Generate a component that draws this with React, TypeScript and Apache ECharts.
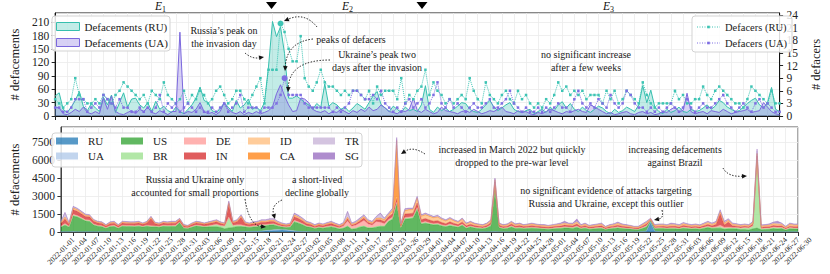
import React, { useEffect, useRef } from "react";
import * as echarts from "echarts";

const FONT = '"Liberation Serif", "DejaVu Serif", serif';

// 2022-01-01 .. 2022-06-30
const dates: string[] = Array.from({ length: 181 }, (_, i) =>
  new Date(Date.UTC(2022, 0, 1 + i)).toISOString().slice(0, 10)
);

// ---- top panel ----
const ruDefacements = [
  45, 52, 15, 8, 20, 35, 55, 22, 12, 28,
  18, 10, 42, 25, 47, 8, 30, 52, 20, 38,
  40, 25, 18, 30, 10, 33, 15, 22, 12, 8,
  20, 10, 5, 15, 25, 40, 65, 35, 30, 12,
  8, 15, 30, 20, 10, 35, 18, 25, 38, 15,
  20, 12, 30, 110, 212, 178, 200, 140, 40, 40,
  45, 38, 30, 25, 15, 28, 20, 72, 22, 30,
  25, 15, 20, 10, 18, 28, 22, 15, 30, 45,
  55, 25, 18, 10, 22, 15, 8, 20, 12, 15,
  10, 25, 68, 15, 8, 20, 12, 18, 10, 15,
  22, 30, 28, 15, 10, 8, 15, 25, 35, 20,
  12, 18, 25, 30, 15, 10, 8, 12, 15, 5,
  10, 15, 8, 20, 12, 25, 32, 18, 28, 15,
  10, 20, 12, 8, 15, 22, 18, 10, 5, 15,
  8, 12, 20, 15, 10, 25, 68, 30, 58, 20,
  10, 5, 15, 8, 12, 20, 10, 8, 15, 10,
  12, 18, 25, 15, 22, 35, 30, 20, 15, 10,
  12, 20, 28, 35, 40, 25, 18, 30, 64, 15,
  10,
];
const uaDefacements = [
  20, 18, 5, 3, 8, 15, 10, 20, 8, 5,
  10, 5, 40, 15, 45, 10, 5, 3, 8, 12,
  5, 15, 10, 20, 8, 5, 12, 8, 3, 10,
  10, 188, 5, 10, 8, 15, 30, 10, 5, 8,
  3, 10, 30, 15, 8, 5, 10, 3, 8, 5,
  10, 5, 8, 12, 20, 50, 70, 45, 25, 10,
  12, 40, 38, 30, 15, 10, 8, 12, 5, 10,
  8, 15, 10, 5, 12, 8, 15, 10, 20, 12,
  15, 25, 18, 10, 8, 5, 12, 10, 15, 40,
  12, 8, 15, 10, 5, 8, 20, 12, 10, 8,
  5, 10, 12, 8, 15, 10, 5, 8, 12, 10,
  15, 20, 10, 8, 5, 12, 8, 10, 5, 3,
  8, 5, 10, 15, 12, 8, 5, 10, 8, 12,
  15, 10, 8, 25, 20, 15, 10, 5, 8, 3,
  5, 8, 10, 5, 3, 8, 10, 5, 8, 3,
  5, 10, 8, 15, 20, 10, 12, 51, 10, 5,
  8, 10, 5, 12, 10, 8, 15, 10, 5, 8,
  10, 12, 15, 8, 10, 12, 30, 20, 10, 5,
  3,
];
const ruDefacers = [
  4, 3, 2, 3, 4, 9, 5, 4, 3, 3,
  4, 3, 5, 4, 3, 5, 6, 8, 7, 6,
  5, 4, 5, 3, 6, 5, 4, 8, 5, 4,
  3, 4, 6, 3, 5, 4, 6, 5, 3, 4,
  6, 7, 5, 3, 4, 6, 6, 4, 3, 5,
  7, 9, 3, 11, 11, 11, 22, 20, 16, 13,
  13, 19, 9, 7, 6, 8, 11, 8, 7, 7,
  6, 5, 6, 5, 6, 6, 5, 4, 6, 3,
  7, 5, 6, 6, 6, 4, 9, 3, 5, 4,
  6, 7, 11, 5, 8, 6, 5, 3, 4, 3,
  4, 5, 4, 9, 6, 4, 3, 8, 5, 4,
  3, 5, 6, 4, 3, 6, 4, 5, 3, 2,
  3, 2, 4, 3, 5, 8, 6, 7, 5, 6,
  5, 6, 4, 5, 5, 5, 3, 6, 4, 6,
  3, 4, 6, 5, 4, 3, 8, 5, 3, 2,
  3, 3, 3, 3, 6, 4, 5, 3, 3, 4,
  4, 7, 5, 4, 6, 7, 6, 5, 4, 3,
  3, 2, 4, 7, 6, 5, 4, 3, 6, 3,
  3,
];
const uaDefacers = [
  2, 2, 1, 1, 2, 4, 4, 4, 1, 2,
  3, 2, 5, 4, 3, 2, 4, 2, 2, 1,
  1, 2, 1, 2, 1, 2, 5, 1, 3, 2,
  3, 1, 2, 3, 2, 1, 2, 1, 1, 2,
  1, 2, 3, 1, 2, 3, 5, 1, 2, 2,
  2, 1, 2, 2, 2, 3, 5, 9, 5, 5,
  5, 5, 3, 2, 2, 2, 2, 2, 2, 1,
  2, 1, 2, 3, 6, 6, 5, 4, 4, 5,
  4, 6, 3, 2, 1, 2, 1, 3, 4, 2,
  3, 4, 2, 3, 5, 8, 3, 2, 4, 2,
  3, 2, 1, 2, 3, 2, 2, 3, 4, 2,
  2, 3, 4, 6, 3, 2, 1, 2, 1, 1,
  2, 1, 2, 1, 2, 3, 2, 2, 1, 4,
  6, 3, 2, 3, 2, 4, 3, 2, 5, 3,
  2, 3, 6, 5, 3, 2, 2, 1, 2, 1,
  2, 1, 2, 3, 2, 1, 2, 4, 2, 1,
  2, 3, 2, 2, 3, 4, 5, 3, 2, 1,
  2, 3, 2, 1, 3, 4, 2, 3, 2, 1,
  1,
];

// ---- bottom panel (stacked, per target country) ----
const RU = [
  15, 12, 18, 20, 15, 10, 12, 18, 14, 10,
  12, 15, 10, 8, 12, 14, 10, 12, 15, 10,
  8, 12, 15, 10, 12, 8, 10, 14, 12, 10,
  8, 10, 12, 15, 10, 12, 14, 10, 12, 15,
  10, 20, 15, 18, 20, 25, 30, 35, 40, 60,
  80, 100, 130, 150, 160, 140, 90, 60, 40, 30,
  25, 20, 18, 15, 20, 15, 12, 15, 10, 12,
  15, 12, 10, 15, 12, 10, 14, 12, 10, 15,
  12, 15, 20, 10, 15, 12, 14, 18, 12, 10,
  12, 15, 10, 12, 14, 10, 12, 15, 10, 8,
  10, 12, 8, 10, 12, 15, 20, 10, 8, 10,
  12, 10, 8, 12, 10, 8, 10, 12, 8, 10,
  10, 12, 8, 10, 12, 15, 10, 8, 10, 12,
  10, 8, 12, 10, 8, 10, 12, 10, 8, 10,
  12, 20, 30, 60, 800, 60, 30, 15, 12, 10,
  10, 12, 8, 10, 12, 10, 8, 10, 12, 10,
  10, 12, 15, 10, 8, 10, 12, 10, 8, 10,
  15, 10, 8, 10, 12, 10, 8, 10, 12, 10,
  10,
];
const UA = [
  8, 10, 6, 12, 10, 8, 6, 10, 8, 6,
  8, 6, 10, 5, 8, 10, 6, 8, 10, 6,
  5, 8, 10, 6, 8, 5, 6, 10, 8, 6,
  5, 6, 8, 10, 6, 8, 10, 6, 8, 10,
  6, 15, 8, 10, 12, 10, 15, 20, 25, 30,
  40, 50, 60, 50, 30, 40, 55, 35, 20, 12,
  10, 8, 6, 10, 8, 6, 5, 8, 6, 5,
  8, 6, 10, 8, 6, 8, 10, 6, 8, 10,
  8, 10, 15, 5, 10, 8, 10, 12, 8, 6,
  8, 10, 6, 8, 10, 6, 8, 10, 6, 5,
  6, 8, 5, 6, 8, 10, 15, 6, 5, 6,
  8, 6, 5, 8, 6, 5, 6, 8, 5, 6,
  5, 6, 8, 6, 5, 8, 6, 5, 6, 8,
  6, 5, 8, 6, 5, 6, 8, 6, 5, 6,
  5, 8, 10, 30, 30, 20, 8, 6, 5, 6,
  6, 5, 8, 6, 5, 6, 8, 5, 6, 8,
  6, 8, 10, 6, 5, 6, 8, 6, 5, 6,
  10, 6, 5, 6, 8, 6, 5, 6, 8, 6,
  5,
];
const US = [
  380, 550, 380, 1300, 1230, 1080, 900, 850, 560, 470,
  420, 290, 420, 450, 290, 460, 440, 450, 420, 470,
  400, 470, 400, 420, 380, 460, 450, 440, 430, 750,
  300, 280, 380, 470, 440, 390, 400, 420, 420, 350,
  250, 300, 350, 420, 420, 380, 330, 370, 370, 440,
  400, 430, 400, 290, 220, 190, 250, 750, 680, 570,
  400, 360, 260, 330, 290, 360, 410, 330, 240, 290,
  450, 220, 260, 380, 450, 310, 310, 390, 450, 430,
  850, 1050, 2300, 320, 1050, 1080, 1130, 1850, 650, 720,
  640, 570, 600, 490, 420, 500, 440, 370, 540, 300,
  400, 320, 280, 260, 320, 480, 3500, 330, 260, 280,
  400, 280, 310, 260, 280, 310, 280, 260, 240, 220,
  245, 265, 280, 320, 310, 280, 370, 250, 300, 220,
  245, 270, 280, 185, 250, 280, 310, 275, 255, 225,
  185, 160, 255, 320, 100, 190, 250, 265, 250, 260,
  255, 225, 300, 265, 235, 255, 220, 285, 350, 280,
  300, 300, 200, 250, 260, 230, 180, 190, 150, 250,
  300, 170, 200, 210, 270, 230, 270, 150, 250, 235,
  235,
];
const BR = [
  40, 50, 35, 60, 55, 45, 40, 50, 35, 30,
  40, 30, 35, 45, 30, 40, 35, 30, 40, 35,
  30, 40, 45, 35, 30, 40, 35, 45, 60, 40,
  30, 25, 35, 40, 50, 45, 60, 100, 150, 120,
  200, 800, 150, 100, 80, 60, 50, 40, 45, 50,
  40, 45, 50, 40, 35, 30, 40, 60, 50, 45,
  40, 35, 30, 40, 35, 40, 45, 35, 30, 40,
  45, 35, 40, 50, 45, 40, 35, 45, 50, 40,
  50, 60, 80, 30, 60, 70, 60, 80, 50, 60,
  50, 45, 50, 40, 45, 100, 60, 45, 50, 40,
  45, 40, 35, 30, 40, 45, 80, 40, 35, 40,
  45, 35, 40, 30, 35, 40, 35, 30, 35, 30,
  35, 40, 45, 50, 40, 45, 55, 35, 40, 30,
  35, 40, 45, 30, 35, 40, 50, 35, 30, 35,
  30, 35, 40, 50, 35, 40, 35, 40, 35, 40,
  45, 40, 50, 45, 40, 45, 40, 50, 60, 50,
  60, 100, 80, 70, 60, 80, 100, 120, 150, 200,
  5700, 60, 80, 60, 70, 80, 60, 40, 50, 45,
  45,
];
const DE = [
  60, 80, 50, 90, 80, 70, 60, 70, 50, 45,
  50, 40, 45, 50, 40, 45, 50, 40, 45, 50,
  40, 45, 60, 40, 45, 50, 40, 45, 50, 40,
  35, 30, 40, 45, 40, 35, 45, 50, 60, 45,
  40, 120, 50, 60, 80, 50, 45, 50, 60, 55,
  60, 50, 55, 45, 40, 35, 40, 80, 70, 60,
  50, 45, 40, 50, 45, 50, 60, 50, 80, 150,
  400, 200, 250, 300, 450, 300, 200, 400, 300, 200,
  120, 120, 100, 40, 80, 90, 80, 100, 70, 80,
  70, 60, 70, 60, 50, 60, 50, 45, 60, 40,
  50, 40, 40, 35, 45, 50, 80, 40, 35, 40,
  50, 40, 45, 35, 40, 45, 40, 35, 40, 35,
  40, 45, 50, 60, 45, 50, 70, 40, 50, 35,
  40, 45, 50, 30, 40, 45, 55, 40, 35, 30,
  30, 35, 45, 60, 30, 40, 45, 40, 35, 50,
  45, 40, 55, 45, 40, 45, 40, 50, 60, 50,
  60, 150, 100, 80, 50, 45, 40, 45, 40, 60,
  150, 45, 40, 50, 60, 70, 50, 35, 50, 45,
  45,
];
const IN = [
  200, 390, 165, 380, 350, 310, 280, 270, 225, 195,
  180, 120, 180, 175, 120, 185, 175, 170, 175, 180,
  160, 180, 600, 175, 160, 185, 170, 180, 180, 160,
  125, 110, 160, 180, 175, 155, 175, 190, 210, 170,
  130, 1085, 185, 250, 620, 175, 155, 170, 170, 190,
  190, 200, 190, 135, 110, 100, 120, 300, 270, 230,
  170, 155, 115, 140, 125, 160, 170, 140, 100, 120,
  190, 100, 115, 170, 200, 135, 130, 175, 200, 185,
  240, 275, 300, 135, 285, 270, 280, 370, 230, 245,
  220, 200, 210, 180, 155, 175, 150, 135, 180, 120,
  145, 120, 110, 100, 120, 180, 500, 130, 105, 110,
  160, 115, 130, 105, 115, 125, 115, 105, 100, 90,
  100, 110, 115, 130, 130, 120, 155, 100, 120, 95,
  100, 110, 120, 75, 100, 110, 130, 115, 105, 95,
  75, 70, 110, 140, 50, 80, 100, 110, 100, 110,
  110, 95, 130, 110, 100, 105, 95, 120, 150, 115,
  200, 950, 180, 420, 140, 120, 95, 100, 80, 140,
  195, 95, 100, 110, 125, 105, 120, 70, 120, 105,
  105,
];
const ID = [
  80, 120, 60, 120, 110, 100, 90, 80, 70, 60,
  60, 50, 60, 70, 50, 60, 70, 60, 55, 60,
  50, 60, 80, 55, 50, 60, 55, 60, 70, 60,
  50, 45, 55, 60, 55, 50, 60, 70, 80, 60,
  55, 100, 60, 70, 90, 60, 55, 65, 70, 75,
  80, 90, 85, 70, 60, 55, 60, 120, 110, 90,
  80, 70, 60, 70, 65, 70, 80, 70, 60, 70,
  100, 70, 80, 90, 100, 90, 80, 100, 120, 110,
  130, 150, 100, 60, 250, 300, 280, 350, 280, 300,
  300, 280, 290, 250, 220, 240, 200, 180, 200, 150,
  150, 130, 120, 110, 120, 140, 150, 110, 100, 110,
  120, 110, 120, 100, 110, 120, 110, 100, 110, 100,
  100, 110, 120, 130, 110, 120, 140, 100, 120, 90,
  100, 110, 120, 80, 100, 110, 130, 110, 100, 90,
  80, 80, 100, 120, 60, 100, 110, 110, 100, 120,
  110, 100, 120, 110, 100, 110, 100, 120, 130, 120,
  130, 150, 140, 130, 120, 110, 100, 110, 100, 120,
  150, 110, 100, 120, 130, 140, 120, 90, 140, 130,
  130,
];
const CA = [
  20, 25, 15, 30, 25, 20, 18, 15, 12, 15,
  12, 10, 15, 12, 10, 15, 12, 10, 15, 12,
  10, 12, 15, 10, 12, 10, 12, 15, 12, 10,
  10, 8, 12, 10, 12, 10, 15, 12, 10, 12,
  10, 20, 12, 15, 18, 12, 10, 12, 15, 12,
  15, 12, 18, 15, 12, 10, 12, 20, 18, 15,
  12, 10, 12, 15, 12, 10, 12, 15, 12, 10,
  15, 12, 15, 20, 25, 18, 15, 20, 25, 30,
  40, 150, 4750, 30, 60, 50, 40, 60, 30, 35,
  30, 25, 30, 25, 20, 25, 20, 18, 20, 15,
  15, 12, 15, 12, 15, 18, 30, 15, 12, 15,
  12, 15, 12, 10, 12, 15, 12, 10, 12, 10,
  12, 10, 15, 12, 10, 12, 15, 10, 12, 10,
  12, 10, 15, 8, 10, 12, 15, 10, 12, 10,
  8, 10, 12, 15, 10, 12, 10, 12, 10, 12,
  15, 12, 10, 12, 10, 12, 10, 15, 12, 10,
  12, 20, 15, 12, 10, 12, 10, 12, 10, 15,
  80, 12, 10, 12, 15, 18, 12, 10, 15, 12,
  12,
];
const TR = [
  60, 350, 40, 80, 70, 60, 55, 50, 45, 40,
  40, 35, 45, 50, 35, 40, 45, 40, 50, 45,
  35, 40, 50, 40, 35, 45, 40, 50, 45, 40,
  30, 25, 35, 40, 35, 30, 40, 50, 45, 40,
  35, 80, 40, 50, 60, 45, 40, 50, 60, 70,
  70, 80, 75, 60, 50, 45, 50, 90, 80, 70,
  60, 55, 45, 50, 45, 50, 60, 50, 45, 60,
  450, 60, 70, 80, 90, 70, 60, 100, 350, 90,
  80, 100, 150, 40, 80, 70, 60, 90, 70, 80,
  70, 60, 80, 60, 55, 60, 50, 45, 60, 40,
  45, 40, 35, 30, 40, 50, 80, 40, 35, 40,
  50, 40, 45, 35, 40, 45, 40, 35, 40, 35,
  40, 45, 50, 60, 45, 50, 70, 40, 50, 35,
  40, 45, 60, 30, 40, 50, 70, 45, 40, 35,
  30, 35, 45, 60, 30, 45, 50, 45, 40, 80,
  60, 50, 70, 55, 45, 50, 45, 55, 70, 60,
  70, 100, 90, 80, 55, 50, 45, 50, 45, 60,
  200, 50, 45, 60, 80, 90, 60, 40, 60, 50,
  50,
];
const SG = [
  40, 60, 30, 60, 50, 45, 40, 35, 30, 30,
  30, 25, 30, 35, 25, 30, 35, 30, 35, 30,
  25, 30, 40, 30, 25, 35, 30, 40, 35, 30,
  25, 20, 25, 30, 25, 25, 30, 40, 35, 30,
  25, 60, 30, 40, 50, 35, 30, 40, 45, 50,
  55, 60, 55, 45, 40, 35, 40, 70, 60, 50,
  45, 40, 35, 40, 35, 40, 45, 40, 35, 45,
  60, 45, 50, 60, 70, 50, 45, 60, 80, 60,
  60, 70, 100, 30, 60, 50, 45, 60, 50, 55,
  50, 45, 55, 45, 40, 45, 40, 35, 45, 30,
  35, 30, 30, 25, 30, 40, 60, 30, 25, 30,
  40, 30, 35, 25, 30, 35, 30, 25, 30, 25,
  30, 35, 60, 120, 40, 50, 200, 30, 40, 25,
  30, 35, 40, 25, 30, 35, 50, 35, 30, 25,
  25, 30, 35, 45, 15, 35, 40, 35, 30, 60,
  45, 40, 50, 40, 35, 40, 35, 40, 50, 45,
  50, 80, 70, 60, 40, 35, 30, 35, 30, 40,
  150, 40, 35, 45, 60, 150, 45, 30, 45, 40,
  40,
];

const countries = ["RU", "UA", "US", "BR", "DE", "IN", "ID", "CA", "TR", "SG"];
const countryData: Record<string, number[]> = { RU, UA, US, BR, DE, IN, ID, CA, TR, SG };
const countryColors: Record<string, string> = {
  RU: "rgba(31,119,180,0.75)",
  UA: "rgba(174,199,232,0.75)",
  US: "rgba(44,160,44,0.75)",
  BR: "rgba(152,223,138,0.75)",
  DE: "rgba(255,152,150,0.75)",
  IN: "rgba(214,39,40,0.75)",
  ID: "rgba(255,187,120,0.75)",
  CA: "rgba(255,127,14,0.75)",
  TR: "rgba(197,176,213,0.75)",
  SG: "rgba(148,103,189,0.75)",
};
const legendColumns = [["RU", "UA"], ["US", "BR"], ["DE", "IN"], ["ID", "CA"], ["TR", "SG"]];
const legendColumnLeft = [56, 121, 184, 248, 313];

const leftTicks = { min: 0, max: 231, interval: 30 };
const rightTicks = { min: 0, max: 24.5, interval: 3 };
const bottomTicks = { min: 0, max: 8790, interval: 1500 };

const TEAL = "#36bfae";
const PURPLE = "#7b68dd";
const TEAL_DOT = "#3ec4b4";
const PURPLE_DOT = "#7e6ee2";

function arrow(x1: number, y1: number, cx: number, cy: number, x2: number, y2: number) {
  const ang = Math.atan2(y2 - cy, x2 - cx);
  const L = 5, W = 2.3;
  const bx = x2 - L * Math.cos(ang), by = y2 - L * Math.sin(ang);
  const px = -Math.sin(ang) * W, py = Math.cos(ang) * W;
  return [
    {
      type: "bezierCurve", z: 10, silent: true,
      shape: { x1, y1, x2: bx, y2: by, cpx1: cx, cpy1: cy },
      style: { stroke: "#111", lineWidth: 1, lineDash: [1.4, 1.6], fill: "none" },
    },
    {
      type: "polygon", z: 10, silent: true,
      shape: { points: [[x2, y2], [bx + px, by + py], [bx - px, by - py]] },
      style: { fill: "#111" },
    },
  ];
}

function note(x: number, yFirst: number, text: string) {
  return {
    type: "text", z: 10, silent: true, x, y: yFirst - 6.5,
    style: { text, textAlign: "center", textVerticalAlign: "top", font: `10px ${FONT}`, fill: "#1a1a1a", lineHeight: 13 },
  };
}

function eLabel(x: number, sub: string) {
  return [
    { type: "text", z: 10, x, y: 0, style: { text: "E", font: `italic 11.5px ${FONT}`, fill: "#111", textVerticalAlign: "top" } },
    { type: "text", z: 10, x: x + 7, y: 5, style: { text: sub, font: `8px ${FONT}`, fill: "#111", textVerticalAlign: "top" } },
  ];
}

function legendBox(x: number, y: number, w: number, h: number) {
  return {
    type: "rect", z: 3, silent: true,
    shape: { x, y, width: w, height: h, r: 3 },
    style: { fill: "rgba(255,255,255,0.85)", stroke: "#d3d3d3", lineWidth: 1 },
  };
}

// small legend glyph: dotted segment with a square marker in the middle
function dotLegendIcon(x: number, y: number, color: string) {
  return [
    {
      type: "line", z: 5, silent: true,
      shape: { x1: x, y1: y, x2: x + 23, y2: y },
      style: { stroke: color, lineWidth: 1, lineDash: [1, 1.5] },
    },
    {
      type: "rect", z: 5, silent: true,
      shape: { x: x + 10.2, y: y - 1.3, width: 2.6, height: 2.6 },
      style: { fill: color },
    },
  ];
}

const axisText = { fontFamily: FONT, fontSize: 11.5, color: "#222" };
const gridLine = { show: true, lineStyle: { color: "#ebebeb", width: 0.8 } };

export default function App() {
  const ref = useRef<HTMLDivElement>(null);
  useEffect(() => {
    if (!ref.current) return;
    const chart = echarts.init(ref.current, undefined, { renderer: "svg" });

    const stackSeries = countries.map((c) => ({
      name: c,
      type: "line",
      xAxisIndex: 1,
      yAxisIndex: 2,
      stack: "total",
      data: countryData[c],
      symbol: "none",
      lineStyle: { width: 0.5, color: countryColors[c] },
      itemStyle: { color: countryColors[c] },
      areaStyle: { color: countryColors[c], opacity: 1 },
    }));

    const bottomLegends = legendColumns.map((names, i) => ({
      orient: "vertical",
      left: legendColumnLeft[i],
      top: 134.5,
      padding: 0,
      itemWidth: 22,
      itemHeight: 7,
      itemGap: 2,
      icon: "rect",
      selectedMode: false,
      textStyle: { fontFamily: FONT, fontSize: 11, color: "#222", lineHeight: 13, padding: [0, 0, 0, 5] },
      data: names.map((n) => ({ name: n, itemStyle: { color: countryColors[n], borderWidth: 0 } })),
    }));

    const graphics: any[] = [
      legendBox(52, 16, 118, 35),
      legendBox(692, 16, 100, 36),
      legendBox(52, 133, 310, 34),
      ...dotLegendIcon(697, 27, TEAL_DOT),
      ...dotLegendIcon(697, 43, PURPLE_DOT),
      ...eLabel(155, "1"),
      ...eLabel(342, "2"),
      ...eLabel(603, "3"),
      { type: "polygon", z: 10, shape: { points: [[266, 2], [277, 2], [271.5, 9]] }, style: { fill: "#000" } },
      { type: "polygon", z: 10, shape: { points: [[416.5, 2], [427.5, 2], [422, 9]] }, style: { fill: "#000" } },
      note(224, 30, "Russia\u2019s peak on\nthe invasion day"),
      ...arrow(245, 53, 252, 59, 264, 57),
      note(351, 39, "peaks of defacers"),
      ...arrow(317, 27, 305, 12, 284, 21),
      ...arrow(313, 39, 287, 42, 285, 71),
      note(377, 54, "Ukraine\u2019s peak two\ndays after the invasion"),
      ...arrow(330, 60, 290, 60, 288, 92),
      note(586, 54, "no significant increase\nafter a few weeks"),
      note(195, 179, "Russia and Ukraine only\naccounted for small proportions"),
      ...arrow(245, 199, 249, 225, 266, 227),
      note(317, 179, "a short-lived\ndecline globally"),
      ...arrow(282, 200, 271, 205, 275, 219),
      note(512, 149, "increased in March 2022 but quickly\ndropped to the pre-war level"),
      ...arrow(425, 154, 413, 146, 401, 154),
      note(675, 149, "increasing defacements\nagainst Brazil"),
      ...arrow(723, 168, 728, 177, 747, 176),
      note(606, 190, "no significant evidence of attacks targeting\nRussia and Ukraine, except this outlier"),
      ...arrow(662, 210, 664, 218, 654, 220),
    ];

    chart.setOption({
      animation: false,
      textStyle: { fontFamily: FONT },
      grid: [
        { left: 46, right: 32, top: 13, height: 103, show: true, borderColor: "#111", borderWidth: 1 },
        { left: 46, right: 32, top: 127, height: 105, show: true, borderColor: "#555", borderWidth: 1 },
      ],
      xAxis: [
        {
          type: "category", gridIndex: 0, data: dates, boundaryGap: false,
          axisLabel: { show: false },
          axisTick: { show: true, interval: 2, length: 4, lineStyle: { color: "#222" } },
          axisLine: { lineStyle: { color: "#111", width: 1 } },
          splitLine: { ...gridLine, interval: 2 },
        },
        {
          type: "category", gridIndex: 1, data: dates, boundaryGap: false,
          axisLabel: {
            interval: 2, rotate: 45, align: "center", verticalAlign: "middle", margin: 19,
            fontFamily: FONT, fontSize: 7.5, color: "#222",
          },
          axisTick: { show: true, interval: 2, length: 4, lineStyle: { color: "#333" } },
          axisLine: { lineStyle: { color: "#444", width: 1 } },
          splitLine: { ...gridLine, interval: 2 },
        },
      ],
      yAxis: [
        {
          type: "value", gridIndex: 0, ...leftTicks,
          name: "# defacements", nameLocation: "middle", nameGap: 31,
          nameTextStyle: { fontFamily: FONT, fontSize: 12.5, color: "#222" },
          axisLabel: { ...axisText, margin: 6, showMaxLabel: false, formatter: (v: number) => (v % 30 === 0 ? String(v) : "") },
          axisTick: { show: true, length: 3.5, lineStyle: { color: "#222" } },
          axisLine: { show: true, lineStyle: { color: "#111" } },
          splitLine: gridLine,
        },
        {
          type: "value", gridIndex: 0, position: "right", ...rightTicks,
          name: "# defacers", nameLocation: "middle", nameGap: 21, nameRotate: 90,
          nameTextStyle: { fontFamily: FONT, fontSize: 12.5, color: "#222" },
          axisLabel: { ...axisText, margin: 7, showMaxLabel: false, formatter: (v: number) => (v % 3 === 0 ? String(v) : "") },
          axisTick: { show: true, length: 3.5, lineStyle: { color: "#222" } },
          axisLine: { show: true, lineStyle: { color: "#111" } },
          splitLine: { show: false },
        },
        {
          type: "value", gridIndex: 1, ...bottomTicks,
          name: "# defacements", nameLocation: "middle", nameGap: 31,
          nameTextStyle: { fontFamily: FONT, fontSize: 12.5, color: "#222" },
          axisLabel: { ...axisText, margin: 6, showMaxLabel: false, formatter: (v: number) => (v % 1500 === 0 ? String(v) : "") },
          axisTick: { show: true, length: 3.5, lineStyle: { color: "#333" } },
          axisLine: { show: true, lineStyle: { color: "#444" } },
          splitLine: gridLine,
        },
      ],
      legend: [
        {
          orient: "vertical", left: 56, top: 20, padding: 0, itemWidth: 23, itemHeight: 8, itemGap: 3,
          selectedMode: false,
          textStyle: { fontFamily: FONT, fontSize: 11, color: "#222", lineHeight: 13 },
          data: [
            { name: "Defacements (RU)", icon: "rect", itemStyle: { color: "rgba(54,191,174,0.3)", borderColor: TEAL, borderWidth: 1 } },
            { name: "Defacements (UA)", icon: "rect", itemStyle: { color: "rgba(123,104,221,0.3)", borderColor: PURPLE, borderWidth: 1 } },
          ],
        },
        {
          orient: "vertical", left: 697, top: 20.5, padding: 0, itemWidth: 23, itemHeight: 2, itemGap: 3,
          selectedMode: false, icon: "rect",
          textStyle: { fontFamily: FONT, fontSize: 10.5, color: "#222", lineHeight: 13 },
          data: [
            { name: "Defacers (RU)", itemStyle: { color: "rgba(0,0,0,0)", borderWidth: 0 } },
            { name: "Defacers (UA)", itemStyle: { color: "rgba(0,0,0,0)", borderWidth: 0 } },
          ],
        },
        ...bottomLegends,
      ],
      series: [
        {
          name: "Defacements (RU)", type: "line", xAxisIndex: 0, yAxisIndex: 0, data: ruDefacements,
          symbol: "none", lineStyle: { color: TEAL, width: 1 }, itemStyle: { color: TEAL },
          areaStyle: { color: TEAL, opacity: 0.3 },
        },
        {
          name: "Defacements (UA)", type: "line", xAxisIndex: 0, yAxisIndex: 0, data: uaDefacements,
          symbol: "none", lineStyle: { color: PURPLE, width: 1 }, itemStyle: { color: PURPLE },
          areaStyle: { color: PURPLE, opacity: 0.3 },
        },
        {
          name: "Defacers (RU)", type: "line", xAxisIndex: 0, yAxisIndex: 1, data: ruDefacers,
          symbol: "rect", symbolSize: 2.5, showSymbol: true,
          lineStyle: { color: TEAL_DOT, width: 1, type: "dotted" }, itemStyle: { color: TEAL_DOT },
          markPoint: {
            symbol: "circle", symbolSize: 6, label: { show: false }, itemStyle: { color: TEAL_DOT },
            data: [{ coord: [dates[56], ruDefacers[56]] }],
          },
        },
        {
          name: "Defacers (UA)", type: "line", xAxisIndex: 0, yAxisIndex: 1, data: uaDefacers,
          symbol: "rect", symbolSize: 2.5, showSymbol: true,
          lineStyle: { color: PURPLE_DOT, width: 1, type: "dotted" }, itemStyle: { color: PURPLE_DOT },
          markPoint: {
            symbol: "circle", symbolSize: 6, label: { show: false }, itemStyle: { color: PURPLE_DOT },
            data: [{ coord: [dates[57], uaDefacers[57]] }],
          },
        },
        ...stackSeries,
      ],
      graphic: { elements: graphics },
    });

    return () => chart.dispose();
  }, []);

  return <div ref={ref} style={{ position: "fixed", left: 0, top: 0, width: 830, height: 274, background: "#fff" }} />;
}
